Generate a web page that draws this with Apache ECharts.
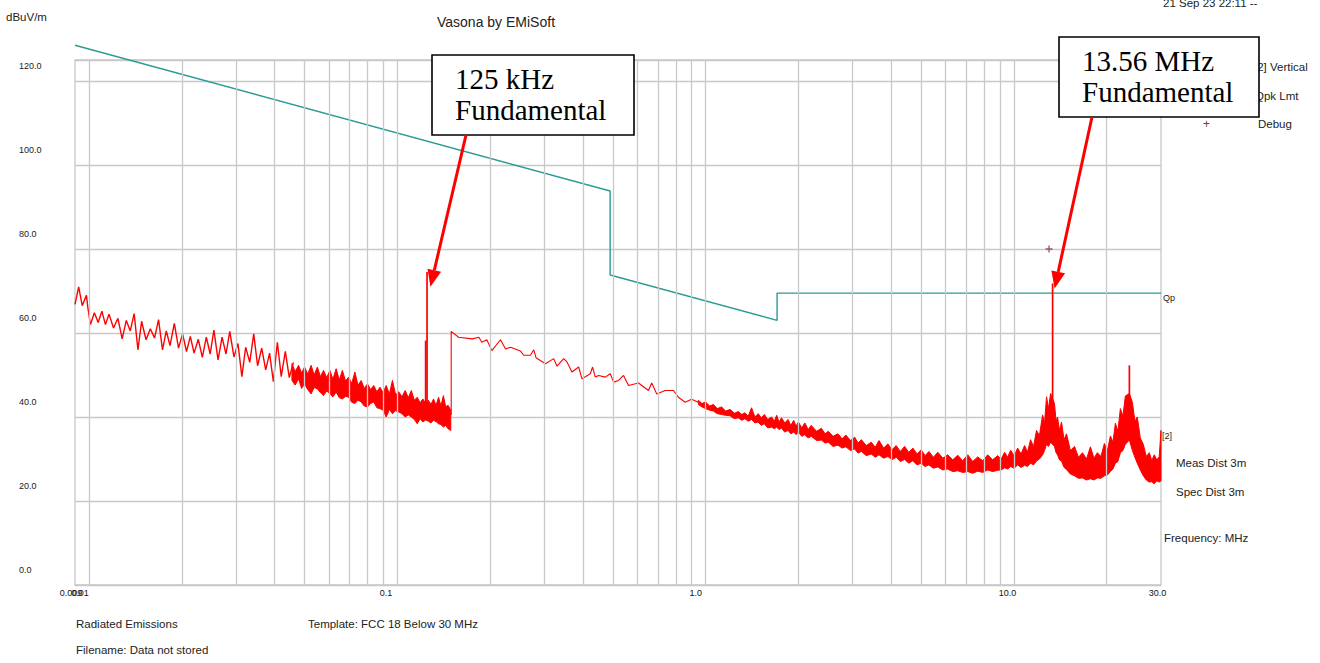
<!DOCTYPE html>
<html>
<head>
<meta charset="utf-8">
<script src="https://cdn.jsdelivr.net/npm/echarts@6/dist/echarts.min.js"></script>
<style>
html,body{margin:0;padding:0;background:#ffffff;}
#chart{width:1320px;height:663px;}
</style>
</head>
<body>
<div id="chart"></div>
<script>
// ---------------- data ----------------
const yTickValues = [0, 20, 40, 60, 80, 100, 120];
const xLabelValues = [0.009, 0.01, 0.1, 1, 10, 30];
const xLabelTexts = ['0.009', '0.01', '0.1', '1.0', '10.0', '30.0'];
const xGridValues = [0.01,0.02,0.03,0.04,0.05,0.06,0.07,0.08,0.09,
                     0.1,0.2,0.3,0.4,0.5,0.6,0.7,0.8,0.9,
                     1,2,3,4,5,6,7,8,9,10,20];

// Qpk limit (FCC 15.209 extrapolated to 3 m)
const limitFreq  = [0.009, 0.49, 0.49, 1.705, 1.705, 30];
const limitLevel = [128.5, 93.8, 73.8, 63.0, 69.5, 69.5];

// measured trace, low band (zig-zag noise)
const noiseFreq = [0.009,0.00925,0.0095,0.0098,0.0099,0.0101,0.0104,0.0107,0.011,0.0113,
  0.0116,0.012,0.0124,0.0128,0.0132,0.0136,0.014,0.0144,0.0148,0.0153,
  0.0158,0.0163,0.0168,0.0173,0.0178,0.0183,0.0189,0.0195,0.0201,0.0207,
  0.0213,0.0219,0.0226,0.0233,0.024,0.0247,0.0254,0.0262,0.027,0.0278,
  0.0286,0.0295,0.0304,0.0313,0.0322,0.0332,0.0342,0.0352,0.0363,0.0374,
  0.0385,0.0396,0.0408,0.042,0.0433,0.0446,0.046];
const noiseLevel = [66.8,71.0,66.5,69.0,66.2,62.0,64.8,62.5,65.2,62.0,
  64.5,61.2,63.5,58.6,63.0,60.5,64.6,56.0,62.8,58.4,
  61.0,58.8,63.2,56.0,60.5,57.0,62.3,56.4,59.8,55.6,
  59.2,55.2,58.5,54.2,59.0,55.0,60.7,53.6,59.0,55.0,
  60.4,54.3,57.5,49.6,56.6,53.0,59.8,52.2,56.4,51.2,
  55.2,48.4,57.8,49.6,55.6,49.4,53.0];

// measured trace, dense noise band below 150 kHz (upper / lower envelope)
const bandAFreq = [0.0455,0.0466,0.0478,0.0489,0.05,0.0512,0.0525,0.0537,0.055,0.0563,
  0.0576,0.059,0.0604,0.0618,0.0633,0.0648,0.0663,0.0679,0.0695,0.0711,
  0.0728,0.0745,0.0763,0.0781,0.08,0.0819,0.0838,0.0858,0.0878,0.0899,
  0.092,0.0942,0.0964,0.0987,0.101,0.1035,0.106,0.1085,0.111,0.1135,
  0.116,0.1185,0.121,0.1235,0.126,0.1285,0.131,0.1335,0.136,0.1385,
  0.141,0.1435,0.146,0.149];
const bandAHi = [52.7,50.8,52.3,50.5,51.9,50.2,52.3,50.0,51.9,49.6,
  51.1,49.4,51.1,49.0,51.5,48.8,51.1,48.6,49.5,48.0,
  50.7,47.6,48.7,46.8,47.9,46.5,47.5,46.0,47.1,45.8,
  47.5,45.5,48.7,45.3,46.0,44.8,46.3,44.6,46.3,44.0,
  44.7,43.4,44.3,43.2,44.0,43.0,44.3,42.8,44.7,42.6,
  45.1,42.4,42.8,41.6];
const bandALo = [48.7,47.6,49.1,46.8,47.9,46.5,45.5,47.0,46.7,45.8,
  45.1,46.2,45.5,44.8,45.9,44.6,44.3,44.9,44.7,43.5,
  43.2,44.0,43.6,42.6,42.4,43.2,43.6,42.2,42.0,41.6,
  40.0,41.8,40.8,41.5,41.2,40.8,40.0,40.5,40.0,39.4,
  38.4,39.6,38.8,39.3,39.0,38.6,39.2,38.9,38.4,38.2,
  37.6,38.0,37.2,36.8];

// measured trace, 150 kHz - 950 kHz (single line)
const lineBFreq = [0.1495,0.1495,0.158,0.175,0.1838,0.188,0.195,0.2025,0.216,0.2243,
  0.2328,0.2508,0.257,0.27,0.277,0.2818,0.3022,0.3215,0.3295,0.3463,
  0.355,0.3684,0.3873,0.397,0.4225,0.4298,0.4386,0.4496,0.4726,0.4905,
  0.5027,0.5218,0.5416,0.5621,0.6056,0.6524,0.6685,0.694,0.739,0.7863,
  0.816,0.8577,0.9,0.947];
const lineBLevel = [40.5,60.4,59.0,58.6,59.0,57.8,58.4,55.8,58.4,56.2,
  56.6,55.7,54.7,54.7,56.0,54.1,52.7,53.9,52.1,53.9,
  53.1,50.7,51.9,49.1,50.3,51.9,49.5,49.9,49.5,50.3,
  48.3,48.7,49.9,47.5,48.1,46.3,48.1,45.5,46.3,46.3,
  44.7,43.5,44.2,43.5];

// measured trace, 0.95 - 30 MHz noise band (upper / lower envelope)
const bandCFreq = [0.947,0.973,1.0,1.03,1.06,1.09,1.127,1.16,1.2,1.24,
  1.276,1.31,1.34,1.375,1.409,1.445,1.48,1.515,1.55,1.59,
  1.636,1.67,1.7,1.73,1.762,1.805,1.85,1.89,1.93,1.965,
  2.0,2.05,2.098,2.15,2.2,2.29,2.374,2.44,2.5,2.59,
  2.688,2.77,2.85,2.95,3.044,3.12,3.2,3.32,3.445,3.55,
  3.65,3.78,3.902,4.02,4.15,4.28,4.419,4.56,4.7,4.85,
  5.0,5.15,5.3,5.48,5.664,5.88,6.1,6.33,6.574,6.82,
  7.085,7.35,7.63,7.92,8.22,8.53,8.857,9.09,9.33,9.54,
  9.757,10.02,10.28,10.55,10.83,11.07,11.32,11.58,11.84,12.1,
  12.39,12.57,12.76,12.95,13.15,13.54,13.7,13.85,14.05,14.27,
  14.54,14.81,15.25,15.72,16.2,16.69,17.2,17.71,18.18,18.66,
  19.15,19.66,20.1,20.56,20.95,21.34,21.74,22.15,22.57,22.99,
  23.69,24.23,24.68,25.13,25.7,26.28,26.88,27.49,28.0,28.53,
  29.05,29.6,30];
const bandCHi = [44.0,43.2,43.6,42.6,43.0,42.0,42.4,41.4,41.8,40.9,
  41.3,40.6,41.0,40.2,42.2,40.0,40.8,39.8,40.6,39.4,
  40.0,39.0,40.4,38.8,39.8,38.6,39.4,38.0,39.2,37.8,
  38.8,37.4,38.6,37.0,38.0,36.6,37.3,36.0,36.6,35.4,
  36.0,34.8,35.7,34.4,35.2,33.8,34.6,33.2,34.0,32.8,
  34.4,32.6,33.6,32.2,33.2,31.8,33.0,31.6,32.6,31.2,
  32.2,30.8,31.8,30.4,31.6,30.2,31.0,29.8,30.9,29.6,
  31.0,29.4,30.5,29.6,31.0,29.8,30.8,30.0,31.6,30.4,
  32.1,30.8,32.6,31.2,33.2,31.6,34.6,33.0,36.8,35.6,
  40.5,38.6,44.8,42.0,45.6,43.2,39.0,40.0,36.8,38.8,
  34.6,36.0,32.0,33.0,30.4,31.5,30.0,32.9,30.2,31.5,
  30.6,33.7,32.0,35.5,34.0,38.5,36.6,42.0,40.2,45.0,
  45.6,43.5,39.0,40.0,35.0,33.5,30.6,31.5,29.6,31.0,
  29.8,30.5,36.8];
const bandCLo = [43.0,42.4,42.0,41.6,41.4,40.8,40.6,40.4,40.3,39.6,
  39.8,39.2,39.6,39.0,39.4,38.6,38.8,38.0,38.4,37.4,
  37.6,37.2,37.6,37.0,37.4,36.4,36.8,36.0,36.4,35.8,
  36.4,35.4,35.8,35.0,35.4,34.4,34.5,33.8,34.0,33.0,
  33.3,32.6,32.9,32.0,32.4,31.4,31.8,30.8,31.2,30.4,
  31.0,30.2,30.6,29.8,30.4,29.4,29.9,29.0,29.6,28.6,
  29.0,28.2,28.6,27.8,28.1,27.4,27.6,27.0,27.2,26.8,
  27.0,26.6,27.1,26.8,27.4,27.0,27.3,27.4,27.9,27.6,
  28.2,27.8,28.6,28.0,28.5,28.2,29.0,28.6,29.5,30.0,
  31.0,32.0,33.5,33.0,34.0,33.0,31.5,31.0,29.8,29.5,
  28.0,27.5,26.4,26.0,25.4,25.5,25.0,25.3,25.0,25.5,
  25.4,26.0,26.2,27.0,27.6,29.0,29.4,31.5,32.0,33.5,
  34.5,32.0,30.4,29.0,27.4,26.0,25.0,24.5,24.6,24.1,
  24.8,24.5,24.8];

// narrow carrier spikes
const spikeFreq = [0.1235, 0.1248, 13.35, 23.69];
const spikeBase = [40.0, 39.5, 40.0, 40.0];
const spikeTop  = [58.2, 74.5, 71.8, 52.3];

// debug marker
const debugFreq  = [13.0];
const debugLevel = [80.0];

// annotation anchors (arrow tips, in data units)
const note1Tip = [0.128, 71.0];
const note2Tip = [13.55, 70.6];

// ---------------- styles ----------------
const SANS = '"Liberation Sans", Arial, sans-serif';
const SERIF = '"Liberation Serif", "Times New Roman", serif';
const GRID = '#c8c8c8';
const RED = '#ff0000';
const TEAL = '#2a9a96';
const MAROON = '#8b2f55';
const TXT = '#222222';
const xLabelShift = [-4, -9, -11.5, -10, -6.5, -3.5];

const pairs = (xs, ys) => xs.map((x, i) => [x, ys[i]]);

function bandSeries(freq, hi, lo) {
  return {
    type: 'custom', coordinateSystem: 'cartesian2d', silent: true, z: 4,
    data: [[freq[0], hi[0]]],
    encode: { x: 0, y: 1 },
    renderItem: function (params, api) {
      const pts = [];
      for (let i = 0; i < freq.length; i++) pts.push(api.coord([freq[i], hi[i]]));
      for (let i = freq.length - 1; i >= 0; i--) pts.push(api.coord([freq[i], lo[i]]));
      return { type: 'polygon', shape: { points: pts },
               style: { fill: RED, stroke: RED, lineWidth: 1 } };
    }
  };
}

const chart = echarts.init(document.getElementById('chart'), null,
  { renderer: 'svg', width: 1320, height: 663 });

const option = {
  animation: false,
  backgroundColor: '#ffffff',
  grid: { left: 75, right: 159, top: 60, bottom: 78, show: true,
          borderColor: GRID, borderWidth: 1.3, backgroundColor: 'transparent',
          outerBoundsMode: 'none' },
  xAxis: {
    type: 'log', logBase: 10, min: 0.009, max: 30,
    axisLine: { show: false }, axisTick: { show: false },
    axisLabel: { show: false }, splitLine: { show: false }
  },
  yAxis: {
    type: 'value', min: 0, max: 125, interval: 20,
    axisLine: { show: false }, axisTick: { show: false },
    splitLine: { show: true, lineStyle: { color: GRID, width: 1.3 } },
    axisLabel: {
      customValues: yTickValues,
      formatter: v => Number(v).toFixed(1),
      align: 'left', margin: 56, verticalAlign: 'bottom', lineHeight: 30,
      fontSize: 9, fontFamily: SANS, color: TXT
    }
  },
  series: [
    { // vertical log grid lines
      type: 'line', data: [], silent: true, z: 1,
      markLine: {
        silent: true, symbol: ['none', 'none'], label: { show: false },
        emphasis: { disabled: true },
        lineStyle: { color: GRID, width: 1.3, type: 'solid' },
        data: xGridValues.map(v => ({ xAxis: v }))
      }
    },
    { // x tick labels
      type: 'custom', coordinateSystem: 'cartesian2d', silent: true, clip: false, z: 5,
      data: xLabelValues.map((v, i) => [v, 0, i]),
      encode: { x: 0, y: 1 },
      renderItem: function (params, api) {
        const i = api.value(2);
        const p = api.coord([api.value(0), 0]);
        return { type: 'text', x: p[0] + xLabelShift[i], y: p[1] + 3,
          style: { text: xLabelTexts[i], fontSize: 9, fontFamily: SANS,
                   fill: '#111111', align: 'center', verticalAlign: 'top' } };
      }
    },
    { // Qpk limit
      name: 'Qpk Lmt', type: 'line', data: pairs(limitFreq, limitLevel),
      symbol: 'none', clip: false, z: 3, silent: true,
      lineStyle: { color: TEAL, width: 1.4 }
    },
    { // low-frequency noise
      type: 'line', data: pairs(noiseFreq, noiseLevel), symbol: 'none', z: 4, silent: true,
      lineStyle: { color: RED, width: 1.4 }
    },
    bandSeries(bandAFreq, bandAHi, bandALo),
    { // 150 kHz - 950 kHz
      type: 'line', data: pairs(lineBFreq, lineBLevel), symbol: 'none', z: 4, silent: true,
      lineStyle: { color: RED, width: 1.1 }
    },
    bandSeries(bandCFreq, bandCHi, bandCLo),
    { // spikes
      type: 'custom', coordinateSystem: 'cartesian2d', silent: true, z: 4,
      data: spikeFreq.map((f, i) => [f, spikeBase[i], spikeTop[i]]),
      encode: { x: 0, y: [1, 2] },
      renderItem: function (params, api) {
        const a = api.coord([api.value(0), api.value(1)]);
        const b = api.coord([api.value(0), api.value(2)]);
        return { type: 'line', shape: { x1: a[0], y1: a[1], x2: b[0], y2: b[1] },
                 style: { stroke: RED, lineWidth: 1.7 } };
      }
    },
    { // debug marker
      name: 'Debug', type: 'scatter', data: pairs(debugFreq, debugLevel), z: 5, silent: true,
      symbol: 'path://M4,0H6V4H10V6H6V10H4V6H0V4H4Z', symbolSize: 7,
      itemStyle: { color: MAROON }
    }
  ]
};
chart.setOption(option);

// ---------------- annotations / texts ----------------
function txt(x, y, text, size, color, family, extra) {
  return Object.assign({ type: 'text', x: x, y: y, z: 50, silent: true,
    style: { text: text, fontSize: size, fontFamily: family || SANS, fill: color || TXT,
             align: 'left', verticalAlign: 'middle' } }, extra || {});
}
function arrow(tail, tip) {
  const dx = tip[0] - tail[0], dy = tip[1] - tail[1];
  const len = Math.sqrt(dx * dx + dy * dy);
  const ux = dx / len, uy = dy / len;
  const L = 17, W = 7;
  const bx = tip[0] - ux * L, by = tip[1] - uy * L;
  const nx = -uy, ny = ux;
  return [
    { type: 'line', z: 60, silent: true,
      shape: { x1: tail[0], y1: tail[1], x2: bx, y2: by },
      style: { stroke: RED, lineWidth: 3 } },
    { type: 'polygon', z: 60, silent: true,
      shape: { points: [tip, [bx + nx * W, by + ny * W], [bx - nx * W, by - ny * W]] },
      style: { fill: RED } }
  ];
}
function noteBox(x, y, w, h, line1, line2) {
  return [
    { type: 'rect', z: 55, silent: true, shape: { x: x, y: y, width: w, height: h },
      style: { fill: '#ffffff', stroke: '#000000', lineWidth: 1.6 } },
    txt(x + 23, y + 24, line1, 29, '#000000', SERIF, { z: 56 }),
    txt(x + 23, y + 55, line2, 29, '#000000', SERIF, { z: 56 })
  ];
}

const tip1 = chart.convertToPixel({ xAxisIndex: 0, yAxisIndex: 0 }, note1Tip);
const tip2 = chart.convertToPixel({ xAxisIndex: 0, yAxisIndex: 0 }, note2Tip);

const elements = [].concat(
  [
    txt(6, 17, 'dBuV/m', 11.5),
    txt(437, 22, 'Vasona by EMiSoft', 14),
    txt(1163, 3, '21 Sep 23 22:11 --', 11.5),
    txt(1254, 67, '[2] Vertical', 11.5),
    txt(1255, 96, 'Qpk Lmt', 11.5),
    txt(1203, 124, '+', 12, MAROON),
    txt(1258, 124, 'Debug', 11.5),
    txt(1163, 298, 'Qp', 9),
    txt(1162, 436, '[2]', 9),
    txt(1176, 463, 'Meas Dist 3m', 11.5),
    txt(1176, 492, 'Spec Dist 3m', 11.5),
    txt(1164, 538, 'Frequency: MHz', 11.5),
    txt(76, 624, 'Radiated Emissions', 11.5),
    txt(308, 624, 'Template: FCC 18 Below 30 MHz', 11.5),
    txt(76, 650, 'Filename: Data not stored', 11.5)
  ],
  noteBox(432, 55, 202, 80, '125 kHz', 'Fundamental'),
  noteBox(1059, 37, 200, 80, '13.56 MHz', 'Fundamental'),
  arrow([466, 135], tip1),
  arrow([1092, 117], tip2)
);
chart.setOption({ graphic: { elements: elements } });
</script>
</body>
</html>
